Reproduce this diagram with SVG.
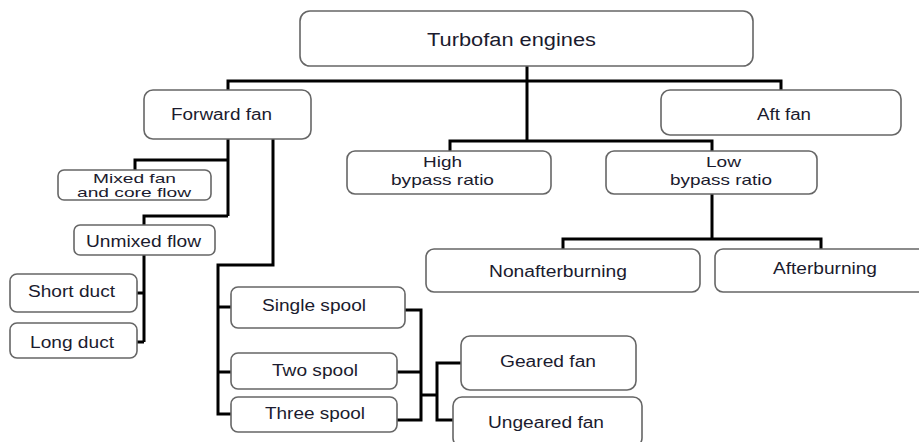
<svg xmlns="http://www.w3.org/2000/svg" width="919" height="442" viewBox="0 0 919 442">
<style>
.box{fill:#fff;stroke:#666;stroke-width:1.6}
.t{font-family:"Liberation Sans",Arial,sans-serif;font-size:16px;fill:#1b1b2e}
.s{font-size:15px}
.xs{font-size:13px}
.c{fill:none;stroke:#000;stroke-width:3;stroke-linejoin:miter;stroke-linecap:butt}
</style>
<rect width="919" height="442" fill="#fff"/>
<g id="connectors">
<path class="c" d="M527 66V141M228 90V81H781V90M450 151V141H712V151"/>
<path class="c" d="M712 194V239M563 249V239H821V249"/>
<path class="c" d="M228 139V216M135 170V160H228M144 225V216H228"/>
<path class="c" d="M144 255V342M137 293H144M137 342H144"/>
<path class="c" d="M273 139V265H218V414H231M218 307H231M218 372H231"/>
<path class="c" d="M405 310H421V420H397M397 372H421M421 395H437M461 363H437V420H454"/>
</g>
<g id="n-turbofan"><rect class="box" x="300" y="11" width="453" height="55" rx="10"/><text class="t" x="427" y="46" style="font-size:18px" textLength="169" lengthAdjust="spacingAndGlyphs">Turbofan engines</text></g>
<g id="n-forward"><rect class="box" x="144" y="90" width="167" height="49" rx="9"/><text class="t" x="171" y="120" textLength="101" lengthAdjust="spacingAndGlyphs">Forward fan</text></g>
<g id="n-aft"><rect class="box" x="661" y="90" width="240" height="45" rx="9"/><text class="t" x="757" y="120" textLength="54" lengthAdjust="spacingAndGlyphs">Aft fan</text></g>
<g id="n-high"><rect class="box" x="347" y="151" width="204" height="43" rx="8"/><text class="t s" x="423" y="167" textLength="39" lengthAdjust="spacingAndGlyphs">High</text><text class="t s" x="391" y="185" textLength="103" lengthAdjust="spacingAndGlyphs">bypass ratio</text></g>
<g id="n-low"><rect class="box" x="606" y="151" width="211" height="43" rx="8"/><text class="t s" x="706" y="167" textLength="35" lengthAdjust="spacingAndGlyphs">Low</text><text class="t s" x="670" y="185" textLength="102" lengthAdjust="spacingAndGlyphs">bypass ratio</text></g>
<g id="n-nonaft"><rect class="box" x="426" y="249" width="274" height="43" rx="8"/><text class="t" x="489" y="277" textLength="138" lengthAdjust="spacingAndGlyphs">Nonafterburning</text></g>
<g id="n-aftburn"><rect class="box" x="715" y="249" width="214" height="43" rx="8"/><text class="t" x="773" y="274" textLength="104" lengthAdjust="spacingAndGlyphs">Afterburning</text></g>
<g id="n-mixed"><rect class="box" x="58" y="170" width="153" height="30" rx="6"/><text class="t xs" x="93" y="182.5" textLength="83" lengthAdjust="spacingAndGlyphs">Mixed fan</text><text class="t xs" x="77" y="196.5" textLength="114" lengthAdjust="spacingAndGlyphs">and core flow</text></g>
<g id="n-unmixed"><rect class="box" x="74" y="225" width="141" height="30" rx="6"/><text class="t" x="86" y="247" textLength="115" lengthAdjust="spacingAndGlyphs">Unmixed flow</text></g>
<g id="n-short"><rect class="box" x="10" y="274" width="127" height="38" rx="7"/><text class="t" x="28" y="297" textLength="87" lengthAdjust="spacingAndGlyphs">Short duct</text></g>
<g id="n-long"><rect class="box" x="10" y="323" width="127" height="35" rx="7"/><text class="t" x="30" y="348" textLength="84" lengthAdjust="spacingAndGlyphs">Long duct</text></g>
<g id="n-single"><rect class="box" x="231" y="287" width="174" height="41" rx="7"/><text class="t" x="262" y="311" textLength="104" lengthAdjust="spacingAndGlyphs">Single spool</text></g>
<g id="n-two"><rect class="box" x="231" y="353" width="166" height="36" rx="7"/><text class="t" x="272" y="376" textLength="86" lengthAdjust="spacingAndGlyphs">Two spool</text></g>
<g id="n-three"><rect class="box" x="231" y="397" width="166" height="35" rx="7"/><text class="t" x="265" y="419" textLength="100" lengthAdjust="spacingAndGlyphs">Three spool</text></g>
<g id="n-geared"><rect class="box" x="461" y="336" width="175" height="54" rx="9"/><text class="t" x="500" y="367" textLength="96" lengthAdjust="spacingAndGlyphs">Geared fan</text></g>
<g id="n-ungeared"><rect class="box" x="453" y="397" width="189" height="50" rx="9"/><text class="t" x="488" y="428" textLength="116" lengthAdjust="spacingAndGlyphs">Ungeared fan</text></g>
</svg>
